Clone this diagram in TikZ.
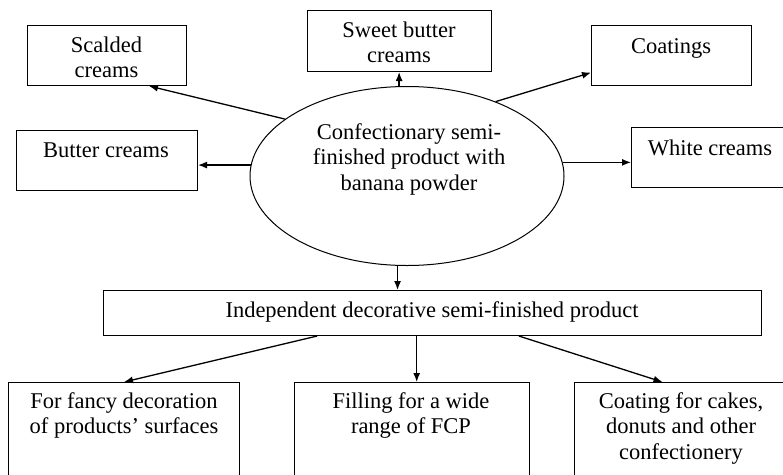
\documentclass[tikz,border=0pt]{standalone}
\usepackage{fontspec}
\setmainfont{Liberation Serif}
\usetikzlibrary{shapes.geometric,arrows.meta,calc}
\newcommand\mlines[1]{\begin{tabular}[t]{@{}c@{}}#1\end{tabular}}
\begin{document}
\begin{tikzpicture}[x=1pt,y=-1pt,
  box/.style={draw, line width=1pt, rectangle, inner sep=0, anchor=north west},
  txt/.style={font=\fontsize{22.5}{25.5}\selectfont, inner sep=0, anchor=base},
  arr/.style={line width=1.3pt, -{Latex[length=9pt,width=7pt]}}]
\useasboundingbox (0,0) rectangle (783,474);
\clip (0,0) rectangle (783,474);
% boxes
\node[box, minimum width=159pt, minimum height=60pt] (sc) at (27,25) {};
\node[box, minimum width=181pt, minimum height=60pt] (bc) at (16,130) {};
\node[box, minimum width=184pt, minimum height=61pt] (sw) at (307,10) {};
\node[box, minimum width=160pt, minimum height=60pt] (co) at (591,25) {};
\node[box, minimum width=170pt, minimum height=60pt] (wc) at (631,127) {};
\node[draw, ellipse, line width=1pt, minimum width=314pt, minimum height=179pt, inner sep=0] (el) at (407,176) {};
\node[box, minimum width=658pt, minimum height=45pt] (ind) at (103,290) {};
\node[box, minimum width=231pt, minimum height=110pt] (lb) at (8,382) {};
\node[box, minimum width=235pt, minimum height=110pt] (mb) at (294,382) {};
\node[box, minimum width=230pt, minimum height=110pt] (rb) at (574,382) {};
% texts
\node[txt] (sct) at (106.5,52) {\mlines{Scalded\\creams}};
\node[txt] (bct) at (106,157) {Butter creams};
\node[txt] (swt) at (399,37) {\mlines{Sweet butter\\creams}};
\node[txt] (cot) at (671,53) {Coatings};
\node[txt] (wct) at (710,155) {White creams};
\node[txt] (elt) at (409,139) {\mlines{Confectionary semi-\\finished product with\\banana powder}};
\node[txt] (indt) at (432,317) {Independent decorative semi-finished product};
\node[txt] (lbt) at (124,408) {\mlines{For fancy decoration\\of products’ surfaces}};
\node[txt] (mbt) at (411,408) {\mlines{Filling for a wide\\range of FCP}};
\node[txt] (rbt) at (681,408) {\mlines{Coating for cakes,\\donuts and other\\confectionery}};
% connectors
\draw[arr] (el.155.3) -- (sc.-36);
\draw[arr] (el.176.7) -- (el.176.7 -| bc.east);
\draw[arr] (el.95.75) -- (el.95.75 |- sw.south);
\draw[arr] (el.40.8) -- (co.192.7);
\draw[arr] (el.5.16) -- (el.5.16 -| wc.west);
\draw[arr] (el.264.9) -- (el.264.9 |- ind.north);
\draw[arr] ($(ind.south west)!0.325!(ind.south east)$) -- (lb.north);
\coordinate (m1) at ($(ind.south west)!0.476!(ind.south east)$);
\draw[arr] (m1) -- (m1 |- mb.north);
\draw[arr] ($(ind.south west)!0.631!(ind.south east)$) -- ($(rb.north west)!0.383!(rb.north east)$);
\end{tikzpicture}
\end{document}
